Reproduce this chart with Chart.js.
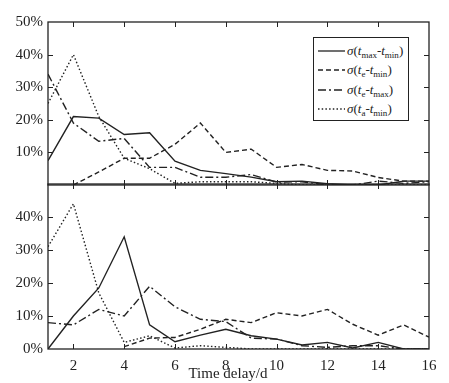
<!DOCTYPE html>
<html>
<head>
<meta charset="utf-8">
<script src="https://cdn.jsdelivr.net/npm/chart.js@4.4.1/dist/chart.umd.min.js"></script>
<style>
  html, body { margin: 0; padding: 0; background: #fff; }
  #wrap { position: relative; width: 449px; height: 383px; background: #fff; font-family: "Liberation Serif", serif; color: #222; }
  #top-box { position: absolute; left: 0; top: 0; width: 449px; height: 199px; }
  #bottom-box { position: absolute; left: 0; top: 170px; width: 449px; height: 213px; }
  #x-title { position: absolute; left: 150px; width: 156px; top: 364px; text-align: center; font-size: 15px; line-height: 18px; }
  #legend { position: absolute; left: 313px; top: 37px; width: 94px; height: 82px; border: 1.5px solid #222; background: #fff; }
  .row { position: absolute; left: 4px; height: 16px; display: flex; align-items: center; font-size: 13px; white-space: nowrap; }
  .row svg { margin-right: 2px; }
  .row sub { font-size: 9px; vertical-align: -3px; line-height: 0; }
</style>
</head>
<body>
<div id="wrap">
  <div id="top-box"><canvas id="top-chart"></canvas></div>
  <div id="bottom-box"><canvas id="bottom-chart"></canvas></div>
  <div id="x-title">Time delay/d</div>
  <div id="legend"></div>
</div>
<script>
// data (percent)
const days = [1, 2, 3, 4, 5, 6, 7, 8, 9, 10, 11, 12, 13, 14, 15, 16];

const topMaxMin = [7.5, 21, 20.5, 15.5, 16, 7.3, 4.5, 3.5, 2.4, 1, 1.2, 0.4, 0, 0, 1.2, 1.2];
const topEMin   = [null, 0, 4, 8.2, 8.2, 12.5, 19, 10, 11, 5.4, 6.3, 4.5, 4.3, 2.3, 1.2, 1.2];
const topEMax   = [34, 19, 13.4, 14.3, 5.4, 5.4, 2.4, 2.4, 3.2, 0.9, 1, 0, 0, 1.2, 0.5, 1];
const topAMin   = [25, 40, 21, 8.2, 5, 0.5, 1, 1, 1, 0.5, 0, 0, 0, 0, 0, 0];

const bottomMaxMin = [0, 10, 18.5, 34, 7.3, 2.2, 4.2, 6, 4, 3, 1.2, 2, 0.3, 2, 0, 0];
const bottomEMin   = [null, null, null, 0.7, 3.3, 3.5, 6, 9, 8, 11, 10, 12, 7.5, 4.2, 7.3, 3.6];
const bottomEMax   = [8, 7.3, 12, 10, 19, 12.8, 9, 8.3, 3.3, 3, 1, 0.5, 1, 1, 0, 0];
const bottomAMin   = [31, 44, 17, 2, 4, 0.3, 1, 0.5, 0, 0, 0, 0, 0, 0, 0, 0];

const xTickMarks = [2, 4, 6, 8, 10, 12, 14];
const yTickMarks = [10, 20, 30, 40];

const INK = '#222';
const dashes = [[], [5, 3], [8, 3, 2, 3], [1.5, 2.2]];

// legend (html so the subscripts stay real text)
const legendItems = [
  ['max', 'min'],
  ['e', 'min'],
  ['e', 'max'],
  ['a', 'min']
];
const legendTops = [5, 24, 44, 63];
const legendEl = document.getElementById('legend');
legendItems.forEach((it, i) => {
  const row = document.createElement('div');
  row.className = 'row';
  row.style.top = legendTops[i] + 'px';
  row.innerHTML = `<svg width="27" height="8"><line x1="0" y1="4" x2="27" y2="4" stroke="${INK}" stroke-width="1.3" stroke-dasharray="${dashes[i].join(' ') || 'none'}"/></svg>` +
    `<span><i>σ</i>(<i>t</i><sub>${it[0]}</sub>-<i>t</i><sub>${it[1]}</sub>)</span>`;
  legendEl.appendChild(row);
});

// frame + inward tick marks
const framePlugin = {
  id: 'frame',
  afterDraw(chart) {
    const { ctx, chartArea: a, scales } = chart;
    const x = scales.x, y = scales.y;
    ctx.save();
    ctx.strokeStyle = INK;
    ctx.lineWidth = 1.3;
    ctx.strokeRect(a.left, a.top, a.right - a.left, a.bottom - a.top);
    ctx.lineWidth = 1;
    ctx.beginPath();
    xTickMarks.forEach(v => {
      const px = Math.round(x.getPixelForValue(v)) + 0.5;
      ctx.moveTo(px, a.top); ctx.lineTo(px, a.top + 5);
      ctx.moveTo(px, a.bottom); ctx.lineTo(px, a.bottom - 5);
    });
    yTickMarks.forEach(v => {
      const py = Math.round(y.getPixelForValue(v)) + 0.5;
      ctx.moveTo(a.left, py); ctx.lineTo(a.left + 5, py);
      ctx.moveTo(a.right, py); ctx.lineTo(a.right - 5, py);
    });
    ctx.stroke();
    ctx.restore();
  }
};

function makeDatasets(series) {
  return series.map((d, i) => ({
    data: d,
    borderColor: INK,
    borderWidth: 1.4,
    borderDash: dashes[i],
    pointRadius: 0,
    tension: 0,
    fill: false,
    spanGaps: false
  }));
}

function makeChart(canvasId, series, opts) {
  return new Chart(document.getElementById(canvasId), {
    type: 'line',
    data: { labels: days, datasets: makeDatasets(series) },
    options: {
      responsive: true,
      maintainAspectRatio: false,
      animation: false,
      layout: { padding: opts.padding },
      plugins: { legend: { display: false }, tooltip: { enabled: false } },
      scales: {
        x: {
          type: 'linear',
          min: 1, max: 16,
          display: opts.showX,
          grid: { display: false },
          border: { display: false },
          ticks: {
            stepSize: 1,
            padding: 0,
            autoSkip: false,
            maxRotation: 0,
            color: INK,
            font: { family: 'Liberation Serif', size: 15 },
            callback: v => (v % 2 === 0 ? String(v) : '')
          },
          afterFit: s => { s.height = opts.xHeight; }
        },
        y: {
          min: 0, max: 50,
          grid: { display: false, drawTicks: false },
          border: { display: false },
          ticks: {
            stepSize: 10,
            padding: 5,
            color: INK,
            font: { family: 'Liberation Serif', size: 15 },
            callback: v => (opts.yLabels.includes(v) ? v + '%' : '')
          },
          afterFit: s => { s.width = 48; }
        }
      }
    },
    plugins: [framePlugin]
  });
}

makeChart('top-chart', [topMaxMin, topEMin, topEMax, topAMin], {
  padding: { top: 22, right: 20, bottom: 5, left: 0 },
  showX: false,
  xHeight: 0,
  yLabels: [10, 20, 30, 40, 50]
});

makeChart('bottom-chart', [bottomMaxMin, bottomEMin, bottomEMax, bottomAMin], {
  padding: { top: 14, right: 20, bottom: 0, left: 0 },
  showX: true,
  xHeight: 34,
  yLabels: [0, 10, 20, 30, 40]
});
</script>
</body>
</html>
